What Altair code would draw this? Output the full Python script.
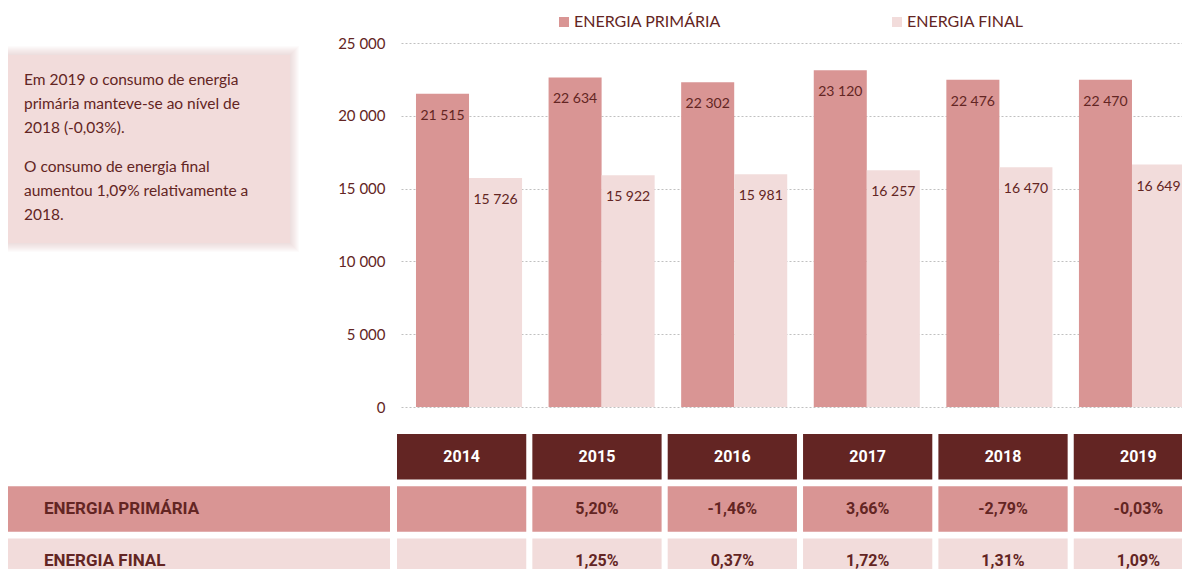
import altair as alt
import pandas as pd

# ---------------- data ----------------
years = ["2014", "2015", "2016", "2017", "2018", "2019"]
series = ["ENERGIA PRIMÁRIA", "ENERGIA FINAL"]
primaria = [21515, 22634, 22302, 23120, 22476, 22470]
final = [15726, 15922, 15981, 16257, 16470, 16649]
var_primaria = [None, 5.20, -1.46, 3.66, -2.79, -0.03]
var_final = [None, 1.25, 0.37, 1.72, 1.31, 1.09]
y_ticks = [0, 5000, 10000, 15000, 20000, 25000]
note_paragraphs = [
    "Em 2019 o consumo de energia\nprimária manteve-se ao nível de\n2018 (-0,03%).",
    "O consumo de energia final\naumentou 1,09% relativamente a\n2018.",
]

COL_P = "#D99594"
COL_F = "#F2DCDB"
COL_H = "#632523"
TXT = "#632523"
FONT = "Lato"
TFONT = "Roboto"

# ---------------- tables ----------------
bars_df = pd.DataFrame(
    [{"year": y, "series": series[0], "value": v} for y, v in zip(years, primaria)]
    + [{"year": y, "series": series[1], "value": v} for y, v in zip(years, final)]
)

def fmt_pct(v):
    return "" if v is None else f"{v:.2f}".replace(".", ",") + "%"

rows = ["ANO", series[0], series[1]]
table_rows = []
for i, y in enumerate(years):
    table_rows.append({"year": y, "row": "ANO", "label": y})
    table_rows.append({"year": y, "row": series[0], "label": fmt_pct(var_primaria[i])})
    table_rows.append({"year": y, "row": series[1], "label": fmt_pct(var_final[i])})
table_df = pd.DataFrame(table_rows)
rowlab_df = pd.DataFrame({"row": series, "label": series})
note_df = pd.DataFrame({"para": [0, 1], "text": note_paragraphs})

# ---------------- scales ----------------
bar_x_scale = alt.Scale(type="band", domain=years, range=[393, 1192], paddingInner=0.2, paddingOuter=0.113)
bar_off_scale = alt.Scale(type="band", domain=series, paddingInner=0, paddingOuter=0)
bar_y_scale = alt.Scale(domain=[0, 25000], range=[399, 35], nice=False, zero=True)
tab_x_scale = alt.Scale(type="band", domain=years, range=[389, 1195], paddingInner=0.045, paddingOuter=0)
tab_y_scale = alt.Scale(type="band", domain=rows, range=[426, 576], paddingInner=0.13, paddingOuter=0)

# ---------------- note box ----------------
glow = []
for d in [9, 8, 7, 6, 5, 4, 3, 2, 1]:
    glow.append(
        alt.Chart(note_df.head(1)).mark_rect(color="#DDBDBC", opacity=0.06).encode(
            x=alt.value(0 - d), x2=alt.value(282 + d), y=alt.value(47 - d), y2=alt.value(235 + d)
        )
    )
note_rect = alt.Chart(note_df.head(1)).mark_rect(color=COL_F).encode(
    x=alt.value(0), x2=alt.value(282), y=alt.value(47), y2=alt.value(235)
)
note_text = alt.Chart(note_df).mark_text(
    align="left", baseline="alphabetic", lineBreak="\n", lineHeight=24,
    font=FONT, fontSize=15.5, color=TXT
).encode(
    x=alt.value(16),
    y=alt.Y("para:O", scale=alt.Scale(domain=[0, 1], range=[77, 164], type="point", padding=0), axis=None),
    text="text:N",
)

# ---------------- bars ----------------
bars = alt.Chart(bars_df).mark_bar().encode(
    x=alt.X("year:N", scale=bar_x_scale, axis=None),
    xOffset=alt.XOffset("series:N", scale=bar_off_scale),
    y=alt.Y(
        "value:Q", scale=bar_y_scale,
        axis=alt.Axis(
            values=y_ticks, labelExpr="replace(datum.label, ',', ' ')", domain=False, ticks=False,
            grid=True, gridDash=[2, 2], gridColor="#C0C0C0", gridWidth=1,
            labelFont=FONT, labelFontSize=15, labelColor=TXT, labelPadding=16,
            offset=-393, title=None,
        ),
    ),
    color=alt.Color(
        "series:N", scale=alt.Scale(domain=series, range=[COL_P, COL_F]),
        legend=alt.Legend(
            orient="none", legendX=548, legendY=6, direction="horizontal", title=None,
            symbolType="square", symbolSize=100, symbolStrokeWidth=0, labelFont=FONT,
            labelFontSize=16, labelColor=TXT, labelOffset=2, columnPadding=168, padding=0,
        ),
    ),
)
bar_text = alt.Chart(bars_df).transform_calculate(
    lab="replace(format(datum.value, ','), ',', ' ')"
).mark_text(baseline="middle", dy=22, font=FONT, fontSize=14, color=TXT).encode(
    x=alt.X("year:N", scale=bar_x_scale, axis=None),
    xOffset=alt.XOffset("series:N", scale=bar_off_scale),
    y=alt.Y("value:Q", scale=bar_y_scale),
    text="lab:N",
)
bar_group = alt.layer(bars, bar_text)

# ---------------- table ----------------
tab_rect = alt.Chart(table_df).mark_rect().encode(
    x=alt.X("year:N", scale=tab_x_scale, axis=None),
    y=alt.Y("row:N", scale=tab_y_scale, axis=None),
    color=alt.Color("row:N", scale=alt.Scale(domain=rows, range=[COL_H, COL_P, COL_F]), legend=None),
)
tab_head_text = alt.Chart(table_df).transform_filter("datum.row == 'ANO'").mark_text(
    font=TFONT, fontWeight="bold", fontSize=16, color="white", baseline="middle"
).encode(
    x=alt.X("year:N", scale=tab_x_scale, axis=None),
    y=alt.Y("row:N", scale=tab_y_scale, axis=None),
    text="label:N",
)
tab_body_text = alt.Chart(table_df).transform_filter("datum.row != 'ANO'").mark_text(
    font=TFONT, fontWeight="bold", fontSize=16, color=TXT, baseline="middle"
).encode(
    x=alt.X("year:N", scale=tab_x_scale, axis=None),
    y=alt.Y("row:N", scale=tab_y_scale, axis=None),
    text="label:N",
)
rowlab_rect = alt.Chart(rowlab_df).mark_rect().encode(
    x=alt.value(0), x2=alt.value(382),
    y=alt.Y("row:N", scale=tab_y_scale, axis=None),
    color=alt.Color("row:N", scale=alt.Scale(domain=rows, range=[COL_H, COL_P, COL_F]), legend=None),
)
rowlab_text = alt.Chart(rowlab_df).mark_text(
    align="left", baseline="middle", font=TFONT, fontWeight="bold", fontSize=17, color=TXT
).encode(
    x=alt.value(36),
    y=alt.Y("row:N", scale=tab_y_scale, axis=None),
    text="label:N",
)
table_group = alt.layer(tab_rect, tab_head_text, tab_body_text, rowlab_rect, rowlab_text)

chart = alt.layer(
    *glow, note_rect, note_text,
    bar_group,
    table_group,
).resolve_scale(
    x="independent", y="independent", color="independent", xOffset="independent"
).properties(
    width=1174, height=561, autosize=alt.AutoSizeParams(type="none"), padding=0, background="white"
).configure_view(stroke=None)

chart.save("out.html", embed_options={"renderer": "svg", "actions": False})
